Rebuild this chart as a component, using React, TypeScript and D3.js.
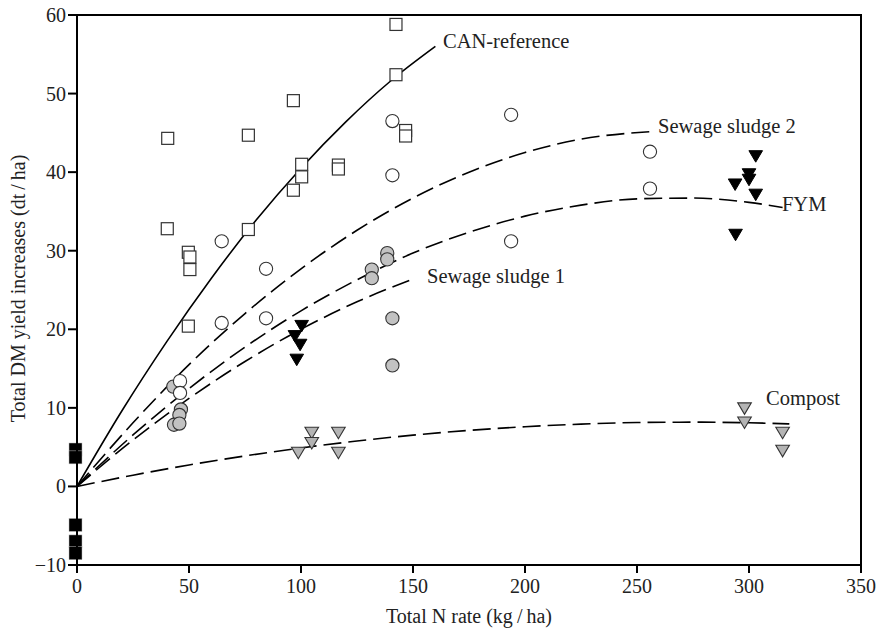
import React from 'react';
import * as d3 from 'd3';

// CAN-reference (open squares)
const canX = [40.5, 40.3, 49.7, 50.4, 50.4, 49.7, 76.5, 76.5, 96.6, 96.6, 100.3, 100.3, 116.7, 116.7, 142.4, 142.4, 146.7, 146.7];
const canY = [44.3, 32.8, 29.8, 29.2, 27.6, 20.4, 44.7, 32.7, 49.1, 37.7, 41.0, 39.4, 40.9, 40.4, 58.8, 52.4, 45.3, 44.6];
// unfertilised control (black squares at N = 0)
const ctrlY = [4.7, 3.7, -4.9, -7.0, -8.5];
// Sewage sludge 1 (grey circles)
const ss1X = [43, 46.4, 45.7, 43.3, 45.7, 138.5, 138.5, 131.6, 131.6, 140.8, 140.8];
const ss1Y = [12.7, 9.8, 9.1, 7.85, 8.0, 29.7, 28.9, 27.6, 26.5, 21.4, 15.4];
// Sewage sludge 2 (open circles)
const ss2X = [46, 46, 64.6, 64.6, 84.4, 84.4, 140.8, 140.8, 193.8, 193.8, 255.8, 255.8];
const ss2Y = [13.4, 11.9, 31.2, 20.8, 27.7, 21.4, 46.5, 39.6, 47.3, 31.2, 42.6, 37.9];
// FYM (black triangles)
const fymX = [100.3, 97.3, 99.6, 98.1, 303, 293.8, 300, 300, 303, 294];
const fymY = [20.4, 19.1, 18.0, 16.1, 42.0, 38.4, 39.7, 39.0, 37.1, 32.0];
// Compost (grey triangles)
const compX = [98.8, 104.8, 104.8, 116.7, 116.7, 298, 298, 315, 315];
const compY = [4.25, 6.8, 5.5, 6.8, 4.25, 9.9, 8.1, 6.8, 4.5];

// fitted response curves
const canCurveX = [0, 20, 40, 60, 80, 100, 120, 140, 160];
const canCurveY = [0, 9.6, 18.4, 26.5, 33.9, 40.5, 46.4, 51.6, 56.0];
const ss2CurveX = [0, 25, 50, 75, 100, 125, 150, 175, 200, 225, 258];
const ss2CurveY = [0, 8.1, 15.5, 22.0, 27.7, 32.6, 36.7, 40.0, 42.5, 44.2, 45.2];
const fymCurveX = [0, 25, 50, 75, 100, 125, 150, 175, 200, 225, 250, 275, 300, 315];
const fymCurveY = [0, 6.55, 12.46, 17.73, 22.35, 26.3, 29.7, 32.35, 34.4, 35.8, 36.6, 36.7, 36.15, 35.5];
const ss1CurveX = [0, 25, 50, 75, 100, 125, 150];
const ss1CurveY = [0, 5.9, 11.2, 15.9, 20.0, 23.5, 26.4];
const compCurveX = [0, 25, 50, 75, 100, 125, 150, 175, 200, 225, 250, 275, 300, 318];
const compCurveY = [0, 1.43, 2.73, 3.88, 4.9, 5.78, 6.53, 7.13, 7.6, 7.93, 8.13, 8.18, 8.1, 7.96];

const xTicks = [0, 50, 100, 150, 200, 250, 300, 350];
const yTicks = [-10, 0, 10, 20, 30, 40, 50, 60];

const labels = [
  { text: 'CAN-reference', x: 163.4, y: 55.8 },
  { text: 'Sewage sludge 2', x: 259.4, y: 45.0 },
  { text: 'FYM', x: 314.7, y: 35.0 },
  { text: 'Sewage sludge 1', x: 156.3, y: 25.9 },
  { text: 'Compost', x: 307.6, y: 10.4 },
];

const W = 881, H = 632;
const margin = { top: 15, right: 20, bottom: 67, left: 77 };
const FONT = '"Liberation Serif", "Times New Roman", serif';
const INK = '#222';

const zip = (xs: number[], ys: number[]) => xs.map((x, i) => [x, ys[i]] as [number, number]);

export default function App() {
  const x = d3.scaleLinear().domain([0, 350]).range([margin.left, W - margin.right]);
  const y = d3.scaleLinear().domain([-10, 60]).range([H - margin.bottom, margin.top]);
  const line = d3.line<[number, number]>().x(d => x(d[0])).y(d => y(d[1])).curve(d3.curveMonotoneX);

  const sq = 12;
  const tri = (cx: number, cy: number) => {
    const w = 6.8, h = 11.5;
    return `M${cx - w},${cy - h / 2}L${cx + w},${cy - h / 2}L${cx},${cy + h / 2}Z`;
  };

  return (
    <svg width={W} height={H} style={{ position: 'absolute', left: 0, top: 0, background: '#fff' }}
      fontFamily={FONT}>
      {/* curves */}
      <path d={line(zip(canCurveX, canCurveY)) || ''} fill="none" stroke="#000" strokeWidth={1.6} />
      {[[ss2CurveX, ss2CurveY], [fymCurveX, fymCurveY], [ss1CurveX, ss1CurveY], [compCurveX, compCurveY]].map((c, i) => (
        <path key={i} d={line(zip(c[0], c[1])) || ''} fill="none" stroke="#000" strokeWidth={1.6}
          strokeDasharray="18 7" />
      ))}

      {/* control */}
      {ctrlY.map((v, i) => (
        <rect key={'c' + i} x={x(0) - 8} y={y(v) - 6.5} width={13} height={13} fill="#000" stroke="#bbb"
          strokeWidth={0.5} />
      ))}
      {/* CAN */}
      {canX.map((v, i) => (
        <rect key={'s' + i} x={x(v) - sq / 2} y={y(canY[i]) - sq / 2} width={sq} height={sq} fill="#fff"
          stroke="#333" strokeWidth={1.2} />
      ))}
      {/* sewage sludge 1 */}
      {ss1X.map((v, i) => (
        <circle key={'g' + i} cx={x(v)} cy={y(ss1Y[i])} r={6.6} fill="#c2c2c2" stroke="#333" strokeWidth={1.1} />
      ))}
      {/* sewage sludge 2 */}
      {ss2X.map((v, i) => (
        <circle key={'o' + i} cx={x(v)} cy={y(ss2Y[i])} r={6.6} fill="#fff" stroke="#333" strokeWidth={1.1} />
      ))}
      {/* FYM */}
      {fymX.map((v, i) => (
        <path key={'f' + i} d={tri(x(v), y(fymY[i]))} fill="#000" stroke="#000" strokeWidth={1} />
      ))}
      {/* compost */}
      {compX.map((v, i) => (
        <path key={'k' + i} d={tri(x(v), y(compY[i]))} fill="#b4b4b4" stroke="#333" strokeWidth={1.1} />
      ))}

      {/* curve labels */}
      {labels.map(l => (
        <text key={l.text} x={x(l.x)} y={y(l.y)} fontSize={20.5} fill={INK}>{l.text}</text>
      ))}

      {/* frame */}
      <rect x={x(0)} y={y(60)} width={x(350) - x(0)} height={y(-10) - y(60)} fill="none" stroke="#000"
        strokeWidth={2} />

      {/* x axis */}
      {xTicks.map(t => (
        <g key={'xt' + t}>
          <line x1={x(t)} x2={x(t)} y1={y(-10)} y2={y(-10) + 8} stroke="#000" strokeWidth={2} />
          <text x={x(t)} y={y(-10) + 28} textAnchor="middle" fontSize={20} fill={INK}>{t}</text>
        </g>
      ))}
      {/* y axis */}
      {yTicks.map(t => (
        <g key={'yt' + t}>
          <line x1={x(0) - 9} x2={x(0)} y1={y(t)} y2={y(t)} stroke="#000" strokeWidth={2} />
          <text x={x(0) - 11} y={y(t)} dy="0.35em" textAnchor="end" fontSize={20} fill={INK}>
            {t < 0 ? '\u2212' + Math.abs(t) : t}
          </text>
        </g>
      ))}

      <text x={(x(0) + x(350)) / 2} y={H - 9} textAnchor="middle" fontSize={20} fill={INK}>
        Total N rate (kg{'\u2009'}/{'\u2009'}ha)
      </text>
      <text transform={`translate(25,${(147 + 430) / 2}) rotate(-90)`} textAnchor="middle" fontSize={20}
        fill={INK}>
        Total DM yield increases (dt{'\u2009'}/{'\u2009'}ha)
      </text>
    </svg>
  );
}
